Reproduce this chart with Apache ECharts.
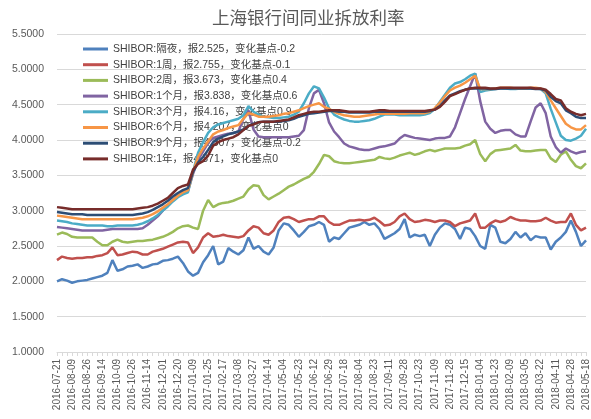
<!DOCTYPE html>
<html lang="zh">
  <head>
    <meta charset="UTF-8" />
    <title>上海银行间同业拆放利率</title>
    <style>
      html, body { margin: 0; padding: 0; background: #fff; }
    </style>
  </head>
  <body>
    <div id="main" style="width: 591px; height: 419px"></div>
    <script src="https://cdn.jsdelivr.net/npm/echarts@6.0.0/dist/echarts.min.js"></script>
    <script>
      // tick labels shown on the x axis (every third point)
      const dateLabels = [
        "2016-07-21", "2016-08-09", "2016-08-26", "2016-09-14", "2016-10-09", "2016-10-26",
        "2016-11-14", "2016-12-01", "2016-12-20", "2017-01-09", "2017-01-25", "2017-02-17",
        "2017-03-08", "2017-03-27", "2017-04-14", "2017-05-04", "2017-05-23", "2017-06-12",
        "2017-06-29", "2017-07-18", "2017-08-04", "2017-08-23", "2017-09-11", "2017-09-28",
        "2017-10-23", "2017-11-09", "2017-11-28", "2017-12-15", "2018-01-04", "2018-01-23",
        "2018-02-09", "2018-03-05", "2018-03-22", "2018-04-11", "2018-04-28", "2018-05-18",
      ];

      const seriesNames = [
        "SHIBOR:隔夜，报2.525，变化基点-0.2",
        "SHIBOR:1周，报2.755，变化基点-0.1",
        "SHIBOR:2周，报3.673，变化基点0.4",
        "SHIBOR:1个月，报3.838，变化基点0.6",
        "SHIBOR:3个月，报4.16，变化基点0.9",
        "SHIBOR:6个月，报4.207，变化基点0",
        "SHIBOR:9个月，报4.307，变化基点-0.2",
        "SHIBOR:1年，报4.371，变化基点0",
      ];

      const overnight = [
        2.00, 2.03, 2.01, 1.98, 2.00, 2.01, 2.02, 2.04, 2.06, 2.08,
        2.12, 2.30, 2.15, 2.17, 2.21, 2.22, 2.24, 2.19, 2.21, 2.24,
        2.25, 2.29, 2.30, 2.32, 2.35, 2.26, 2.14, 2.08, 2.12, 2.27,
        2.37, 2.50, 2.24, 2.28, 2.47, 2.42, 2.38, 2.44, 2.62, 2.46,
        2.50, 2.42, 2.38, 2.48, 2.72, 2.82, 2.80, 2.72, 2.63, 2.70,
        2.78, 2.80, 2.84, 2.80, 2.56, 2.62, 2.60, 2.68, 2.76, 2.78,
        2.80, 2.84, 2.80, 2.82, 2.74, 2.60, 2.64, 2.68, 2.74, 2.88,
        2.62, 2.66, 2.64, 2.66, 2.50, 2.66, 2.76, 2.82, 2.80, 2.74,
        2.60, 2.76, 2.74, 2.64, 2.50, 2.46, 2.80, 2.76, 2.56, 2.54,
        2.60, 2.70, 2.62, 2.68, 2.58, 2.64, 2.62, 2.62, 2.45, 2.56,
        2.62, 2.70, 2.86, 2.70, 2.50, 2.58,
      ];
      const week1 = [
        2.30, 2.35, 2.33, 2.32, 2.33, 2.33, 2.34, 2.34, 2.36, 2.37,
        2.40, 2.48, 2.37, 2.38, 2.40, 2.42, 2.41, 2.38, 2.38, 2.42,
        2.44, 2.46, 2.49, 2.52, 2.55, 2.56, 2.55, 2.40, 2.48, 2.62,
        2.68, 2.63, 2.64, 2.66, 2.64, 2.63, 2.62, 2.64, 2.72, 2.78,
        2.76, 2.68, 2.66, 2.72, 2.84, 2.90, 2.91, 2.88, 2.84, 2.86,
        2.88, 2.88, 2.92, 2.92, 2.84, 2.80, 2.80, 2.83, 2.86, 2.86,
        2.87, 2.86, 2.87, 2.90, 2.85, 2.79, 2.80, 2.84, 2.92, 2.96,
        2.88, 2.84, 2.85, 2.87, 2.86, 2.84, 2.86, 2.86, 2.84, 2.78,
        2.82, 2.84, 2.86, 2.96, 2.76, 2.76, 2.82, 2.86, 2.84, 2.86,
        2.91, 2.88, 2.86, 2.86, 2.85, 2.85, 2.86, 2.90, 2.86, 2.83,
        2.84, 2.84, 2.96, 2.80, 2.72, 2.76,
      ];
      const week2 = [
        2.66, 2.69, 2.67, 2.63, 2.62, 2.62, 2.62, 2.62, 2.56, 2.51,
        2.51, 2.56, 2.59, 2.56, 2.55, 2.56, 2.57, 2.57, 2.58, 2.59,
        2.61, 2.63, 2.66, 2.70, 2.75, 2.78, 2.79, 2.76, 2.74, 3.00,
        3.15, 3.05, 3.09, 3.11, 3.12, 3.14, 3.17, 3.20, 3.30, 3.36,
        3.35, 3.22, 3.16, 3.20, 3.24, 3.29, 3.34, 3.37, 3.41, 3.45,
        3.48, 3.55, 3.66, 3.79, 3.77, 3.70, 3.68, 3.67, 3.67, 3.68,
        3.69, 3.70, 3.71, 3.72, 3.76, 3.74, 3.73, 3.75, 3.78, 3.80,
        3.82, 3.79, 3.81, 3.84, 3.86, 3.84, 3.86, 3.88, 3.88, 3.88,
        3.89, 3.92, 3.94, 4.00, 3.80, 3.70, 3.80, 3.85, 3.86, 3.87,
        3.88, 3.93, 3.85, 3.84, 3.84, 3.85, 3.86, 3.86, 3.74, 3.69,
        3.79, 3.84, 3.72, 3.63, 3.60, 3.67,
      ];
      const month1 = [
        2.77, 2.76, 2.75, 2.74, 2.73, 2.72, 2.72, 2.72, 2.72, 2.72,
        2.73, 2.74, 2.74, 2.74, 2.74, 2.74, 2.74, 2.75, 2.80, 2.86,
        2.92, 3.00, 3.07, 3.15, 3.21, 3.25, 3.28, 3.52, 3.72, 3.84,
        3.96, 4.03, 4.05, 4.07, 4.09, 4.10, 4.12, 4.30, 4.42, 4.15,
        4.05, 4.04, 4.04, 4.04, 4.04, 4.04, 4.04, 4.05, 4.06, 4.14,
        4.45, 4.66, 4.71, 4.52, 4.25, 4.12, 4.04, 3.95, 3.91, 3.89,
        3.87, 3.86, 3.86, 3.88, 3.90, 3.91, 3.93, 3.95, 4.02, 4.07,
        4.05, 4.03, 4.02, 4.01, 4.00, 4.02, 4.03, 4.03, 4.05, 4.18,
        4.38, 4.58, 4.76, 4.94, 4.55, 4.26, 4.16, 4.10, 4.13, 4.14,
        4.14, 4.08, 4.05, 4.05, 4.26, 4.46, 4.52, 4.38, 4.05, 3.90,
        3.82, 3.88, 3.84, 3.81, 3.83, 3.84,
      ];
      const month3 = [
        2.86, 2.85, 2.84, 2.82, 2.81, 2.80, 2.79, 2.79, 2.79, 2.79,
        2.78, 2.78, 2.79, 2.79, 2.79, 2.79, 2.80, 2.82, 2.85, 2.89,
        2.94, 3.00, 3.06, 3.13, 3.19, 3.23, 3.26, 3.55, 3.82, 3.97,
        4.10, 4.18, 4.22, 4.24, 4.26, 4.28, 4.30, 4.35, 4.48, 4.40,
        4.36, 4.33, 4.32, 4.31, 4.31, 4.32, 4.33, 4.36, 4.40, 4.52,
        4.66, 4.76, 4.73, 4.60, 4.45, 4.36, 4.32, 4.29, 4.27, 4.26,
        4.26, 4.27, 4.28, 4.30, 4.33, 4.36, 4.36, 4.36, 4.35, 4.35,
        4.35, 4.35, 4.35, 4.36, 4.38, 4.44, 4.54, 4.64, 4.74, 4.80,
        4.82, 4.86, 4.91, 4.94, 4.68, 4.70, 4.71, 4.72, 4.73, 4.73,
        4.72, 4.72, 4.73, 4.73, 4.73, 4.73, 4.72, 4.66, 4.44, 4.25,
        4.06, 4.00, 3.99, 4.02, 4.06, 4.16,
      ];
      const month6 = [
        2.93, 2.92, 2.91, 2.90, 2.89, 2.88, 2.88, 2.88, 2.88, 2.88,
        2.88, 2.88, 2.88, 2.88, 2.88, 2.88, 2.89, 2.90, 2.92, 2.95,
        2.99, 3.04, 3.09, 3.15, 3.21, 3.26, 3.29, 3.55, 3.76, 3.88,
        3.98, 4.08, 4.12, 4.14, 4.17, 4.19, 4.21, 4.30, 4.38, 4.36,
        4.33, 4.33, 4.33, 4.34, 4.35, 4.37, 4.38, 4.40, 4.42, 4.45,
        4.48, 4.50, 4.52, 4.47, 4.44, 4.40, 4.37, 4.35, 4.34, 4.33,
        4.33, 4.34, 4.35, 4.36, 4.37, 4.37, 4.37, 4.37, 4.37, 4.37,
        4.38, 4.38, 4.38, 4.38, 4.40, 4.45, 4.53, 4.62, 4.70, 4.74,
        4.77, 4.81, 4.86, 4.91, 4.72, 4.72, 4.72, 4.73, 4.74, 4.74,
        4.74, 4.73, 4.73, 4.73, 4.74, 4.74, 4.73, 4.68, 4.56, 4.45,
        4.34, 4.23, 4.18, 4.15, 4.15, 4.21,
      ];
      const month9 = [
        2.98, 2.97, 2.96, 2.95, 2.95, 2.95, 2.94, 2.94, 2.94, 2.94,
        2.94, 2.94, 2.94, 2.94, 2.94, 2.94, 2.95, 2.96, 2.98, 3.01,
        3.05, 3.09, 3.14, 3.20, 3.25, 3.29, 3.32, 3.55, 3.68, 3.76,
        3.86, 3.97, 4.02, 4.05, 4.08, 4.10, 4.12, 4.15, 4.20, 4.23,
        4.25, 4.26, 4.26, 4.26, 4.26, 4.27, 4.28, 4.30, 4.33, 4.35,
        4.37, 4.38, 4.39, 4.40, 4.41, 4.41, 4.40, 4.40, 4.39, 4.39,
        4.39, 4.39, 4.39, 4.40, 4.40, 4.40, 4.40, 4.40, 4.40, 4.40,
        4.40, 4.40, 4.40, 4.40, 4.41, 4.43, 4.48, 4.56, 4.63, 4.66,
        4.69, 4.71, 4.73, 4.73, 4.73, 4.73, 4.72, 4.72, 4.73, 4.73,
        4.73, 4.73, 4.73, 4.73, 4.73, 4.72, 4.72, 4.70, 4.61, 4.55,
        4.52, 4.42, 4.38, 4.33, 4.31, 4.31,
      ];
      const year1 = [
        3.05, 3.04, 3.03, 3.02, 3.02, 3.02, 3.02, 3.02, 3.02, 3.02,
        3.02, 3.02, 3.02, 3.02, 3.02, 3.02, 3.03, 3.04, 3.05, 3.07,
        3.10, 3.14, 3.18, 3.25, 3.32, 3.35, 3.37, 3.58, 3.66, 3.70,
        3.78, 3.92, 3.97, 4.00, 4.02, 4.04, 4.08, 4.14, 4.20, 4.22,
        4.25, 4.26, 4.26, 4.26, 4.27, 4.28, 4.29, 4.32, 4.35, 4.37,
        4.39, 4.40, 4.40, 4.41, 4.42, 4.42, 4.42, 4.41, 4.40, 4.40,
        4.40, 4.40, 4.40, 4.41, 4.42, 4.42, 4.41, 4.41, 4.41, 4.41,
        4.41, 4.41, 4.41, 4.41, 4.42, 4.43, 4.47, 4.54, 4.62, 4.65,
        4.68, 4.71, 4.73, 4.74, 4.74, 4.74, 4.73, 4.73, 4.74, 4.74,
        4.74, 4.74, 4.74, 4.74, 4.74, 4.73, 4.73, 4.71, 4.65, 4.58,
        4.56, 4.45, 4.40, 4.37, 4.35, 4.37,
      ];

      const colors = ["#4F81BD", "#C0504D", "#9BBB59", "#8064A2", "#4BACC6", "#F79646", "#2C4D75", "#772C2A"];
      const allValues = [overnight, week1, week2, month1, month3, month6, month9, year1];

      // two unlabelled points between each labelled date
      const categories = [];
      dateLabels.forEach(function (d, k) {
        categories.push(d);
        if (k < dateLabels.length - 1) categories.push("", "");
      });

      const font = '"Liberation Sans", "Noto Sans CJK SC", sans-serif';

      var chartDom = document.getElementById("main");
      var myChart = echarts.init(chartDom);
      var option = {
        animation: false,
        color: colors,
        title: {
          text: "上海银行间同业拆放利率",
          left: 207,
          top: 4,
          textStyle: {
            fontFamily: '"Noto Sans CJK SC", sans-serif',
            fontSize: 17.5,
            fontWeight: "normal",
            color: "#595959",
          },
        },
        legend: {
          orient: "vertical",
          left: 78,
          top: 38,
          z: 1,
          icon: "rect",
          itemWidth: 25,
          itemHeight: 3,
          itemGap: 3.7,
          textStyle: {
            fontFamily: font,
            fontSize: 10.5,
            lineHeight: 12,
            color: "#404040",
          },
          data: seriesNames,
        },
        grid: { left: 57, right: 2, top: 34, bottom: 67 },
        xAxis: {
          type: "category",
          boundaryGap: false,
          data: categories,
          axisLine: { lineStyle: { color: "#d9d9d9" } },
          axisTick: { interval: 0, length: 4, lineStyle: { color: "#d9d9d9" } },
          axisLabel: {
            interval: 2,
            rotate: 90,
            margin: 7,
            fontFamily: font,
            fontSize: 10,
            color: "#595959",
          },
        },
        yAxis: {
          type: "value",
          min: 1,
          max: 5.5,
          interval: 0.5,
          axisLine: { show: false },
          axisTick: { show: false },
          splitLine: { lineStyle: { color: "#d9d9d9" } },
          axisLabel: {
            margin: 13,
            fontFamily: font,
            fontSize: 10.5,
            color: "#595959",
            formatter: function (v) {
              return v.toFixed(4);
            },
          },
        },
        series: seriesNames.map(function (name, k) {
          return {
            name: name,
            type: "line",
            symbol: "none",
            z: 2,
            lineStyle: { width: 2.5 },
            data: allValues[k],
          };
        }),
      };

      myChart.setOption(option);
    </script>
  </body>
</html>
